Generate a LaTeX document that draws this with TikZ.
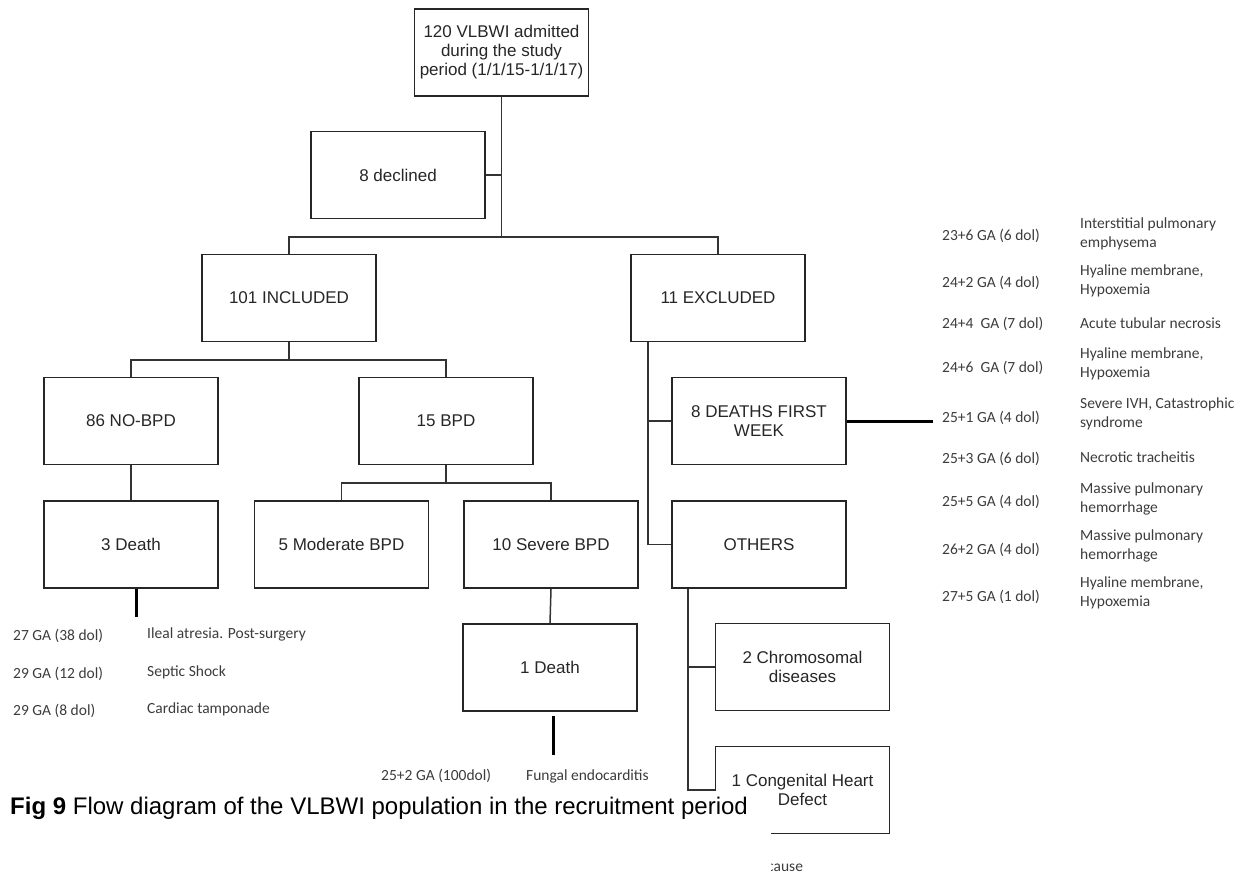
\documentclass[tikz,border=0pt]{standalone}
\usepackage{fontspec}
\setmainfont{Liberation Sans}
\newfontfamily\calfont{Carlito}
\usepackage{tikz}
\usetikzlibrary{calc}
\definecolor{boxgray}{HTML}{262626}
\definecolor{linegray}{HTML}{333333}
\definecolor{notegray}{HTML}{3C3C3C}
\tikzset{
  flowbox/.style={draw=boxgray, line width=1.6pt, minimum width=174pt, minimum height=87pt,
    inner sep=2pt, align=center, text=boxgray, font=\fontsize{17}{19}\selectfont},
  link/.style={draw=linegray, line width=1.5pt},
  stub/.style={draw=black, line width=3pt},
  note/.style={anchor=west, align=left, inner sep=0pt, text=notegray,
    font=\calfont\fontsize{15.5}{19}\selectfont},
}

\begin{document}
\begin{tikzpicture}[x=1pt,y=-1pt]
  \useasboundingbox (0,0) rectangle (1245,876);
  % boxes
  \node[flowbox] (admitted) at (501.5,52.5) {120 VLBWI admitted\\during the study\\period (1/1/15-1/1/17)};
  \node[flowbox] (declined) at (398,175) {8 declined};
  \node[flowbox] (included) at (289,298) {101 INCLUDED};
  \node[flowbox] (excluded) at (718,298) {11 EXCLUDED};
  \node[flowbox] (nobpd) at (131,421) {86 NO-BPD};
  \node[flowbox] (bpd) at (446,421) {15 BPD};
  \node[flowbox] (deaths8) at (759,421) {8 DEATHS FIRST\\WEEK};
  \node[flowbox] (death3) at (131,544.5) {3 Death};
  \node[flowbox] (moderate) at (341.5,544.5) {5 Moderate BPD};
  \node[flowbox] (severe) at (551,544.5) {10 Severe BPD};
  \node[flowbox] (others) at (759,544.5) {OTHERS};
  \node[flowbox] (death1) at (550,667.5) {1 Death};
  \node[flowbox] (chromo) at (802.5,667) {2 Chromosomal\\diseases};
  \node[flowbox] (heart) at (802.5,790) {1 Congenital Heart\\Defect};

  % connectors
  \coordinate (split1) at (501.5,237);
  \coordinate (split2) at (289,360);
  \coordinate (split3) at (446,483);
  \coordinate (exdrop) at ($(excluded.south west)+(18,0)$);
  \coordinate (otdrop) at ($(others.south west)+(17,0)$);
  \draw[link] (admitted.south) -- (split1);
  \draw[link] (declined.east) -- (declined.east -| split1);
  \draw[link] (included.north) |- (split1) -| (excluded.north);
  \draw[link] (included.south) -- (split2);
  \draw[link] (nobpd.north) |- (split2) -| (bpd.north);
  \draw[link] (nobpd.south) -- (death3.north);
  \draw[link] (bpd.south) -- (split3);
  \draw[link] (moderate.north) |- (split3) -| (severe.north);
  \draw[link] (severe.south) -- (death1.north);
  \draw[link] (exdrop) |- (others.west);
  \draw[link] (deaths8.west) -- (deaths8.west -| exdrop);
  \draw[link] (otdrop) |- (heart.west);
  \draw[link] (chromo.west) -- (chromo.west -| otdrop);

  % thick stubs to the lists
  \coordinate (d3end) at (136,617);
  \coordinate (d1end) at (553,755);
  \coordinate (d8end) at (933,421);
  \draw[stub] (death3.south -| d3end) -- (d3end);
  \draw[stub] ($(death1.south -| d1end)+(0,4)$) -- (d1end);
  \draw[stub] (deaths8.east) -- (d8end);

  % deaths after the first week
  \node[note] (ga1) at (13,636) {27 GA (38 dol)};
  \node[note] (cause1) at (147,634) {Ileal atresia. Post-surgery};
  \node[note] (ga2) at (13,674) {29 GA (12 dol)};
  \node[note] (cause2) at (147,672) {Septic Shock};
  \node[note] (ga3) at (13,711) {29 GA (8 dol)};
  \node[note] (cause3) at (147,709) {Cardiac tamponade};
  \node[note] (ga4) at (381,776) {25+2 GA (100dol)};
  \node[note] (cause4) at (526,776) {Fungal endocarditis};

  % deaths in the first week
  \node[note] (wga1) at (942,236) {23+6 GA (6 dol)};
  \node[note] (wcause1) at (1080,234) {Interstitial pulmonary\\emphysema};
  \node[note] (wga2) at (942,283) {24+2 GA (4 dol)};
  \node[note] (wcause2) at (1080,281) {Hyaline membrane,\\Hypoxemia};
  \node[note] (wga3) at (942,324) {24+4\ \ GA (7 dol)};
  \node[note] (wcause3) at (1080,323) {Acute tubular necrosis};
  \node[note] (wga4) at (942,368) {24+6\ \ GA (7 dol)};
  \node[note] (wcause4) at (1080,364) {Hyaline membrane,\\Hypoxemia};
  \node[note] (wga5) at (942,418) {25+1 GA (4 dol)};
  \node[note] (wcause5) at (1080,414) {Severe IVH, Catastrophic\\syndrome};
  \node[note] (wga6) at (942,459) {25+3 GA (6 dol)};
  \node[note] (wcause6) at (1080,457) {Necrotic tracheitis};
  \node[note] (wga7) at (942,502) {25+5 GA (4 dol)};
  \node[note] (wcause7) at (1080,499) {Massive pulmonary\\hemorrhage};
  \node[note] (wga8) at (942,550) {26+2 GA (4 dol)};
  \node[note] (wcause8) at (1080,546) {Massive pulmonary\\hemorrhage};
  \node[note] (wga9) at (942,597) {27+5 GA (1 dol)};
  \node[note] (wcause9) at (1080,593) {Hyaline membrane,\\Hypoxemia};

  % caption pasted over the lower left corner
  \node[note] (cut) at (767,868) {cause};
  \fill[white] (0,791) rectangle (771,876);
  \node[anchor=west, inner sep=0pt, font=\fontsize{24}{26}\selectfont] (caption) at (10,808)
    {\textbf{Fig 9} Flow diagram of the VLBWI population in the recruitment period};
\end{tikzpicture}
\end{document}
